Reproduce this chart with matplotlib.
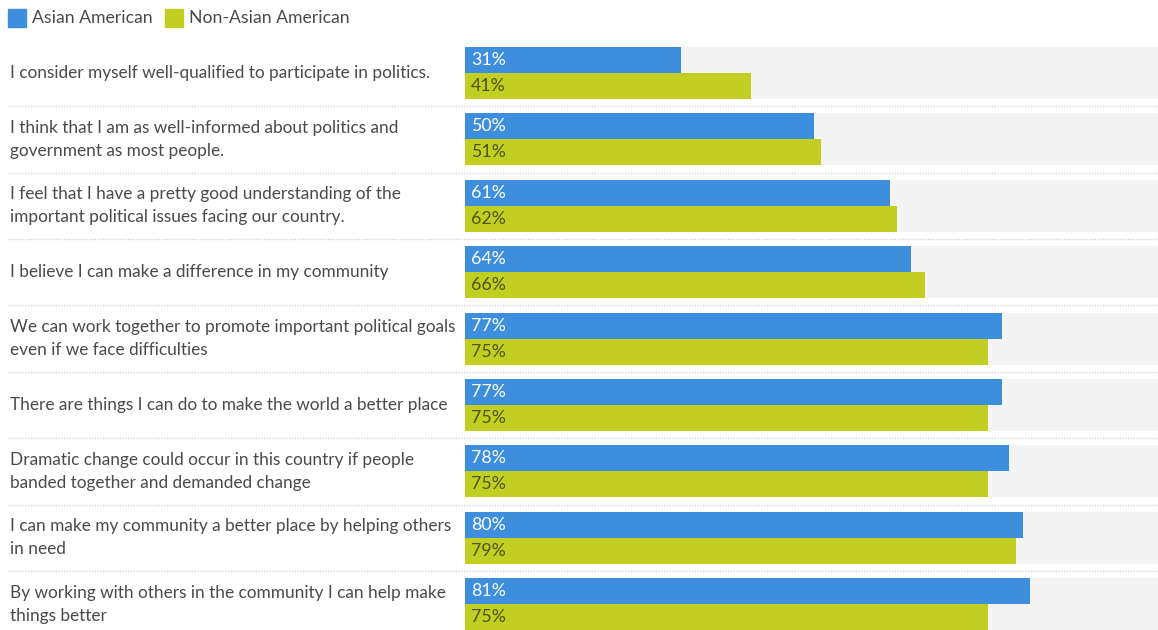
import matplotlib
matplotlib.use("Agg")
import matplotlib.pyplot as plt
from matplotlib.lines import Line2D
from matplotlib.patches import Rectangle
from matplotlib.transforms import blended_transform_factory

plt.rcParams['font.family'] = ['Lato', 'DejaVu Sans']

statements = [
    "I consider myself well-qualified to participate in politics.",
    "I think that I am as well-informed about politics and\ngovernment as most people.",
    "I feel that I have a pretty good understanding of the\nimportant political issues facing our country.",
    "I believe I can make a difference in my community",
    "We can work together to promote important political goals\neven if we face difficulties",
    "There are things I can do to make the world a better place",
    "Dramatic change could occur in this country if people\nbanded together and demanded change",
    "I can make my community a better place by helping others\nin need",
    "By working with others in the community I can help make\nthings better",
]
asian_american = [31, 50, 61, 64, 77, 77, 78, 80, 81]
non_asian_american = [41, 51, 62, 66, 75, 75, 75, 79, 75]
series_names = ["Asian American", "Non-Asian American"]

BLUE = "#3d8fde"
GREEN = "#c2cf22"
TRACK = "#f4f4f4"
TEXT = "#4a4a4a"
GREEN_TEXT = "#4f5312"

W, H = 1158, 630
fig = plt.figure(figsize=(W / 100, H / 100), dpi=100)

# layout in pixels
left_px = 465
row_pitch = 66.4
first_center = 73
bar_h = 26

ax = fig.add_axes([left_px / W, 0, (W - left_px) / W, 1])
ax.set_xlim(0, 99.4)
top = -first_center / row_pitch
bottom = (H - first_center) / row_pitch
ax.set_ylim(bottom, top)
ax.axis("off")

n = len(statements)
rows = list(range(n))
hb = bar_h / row_pitch

ax.barh(rows, [100] * n, height=2 * hb, color=TRACK, zorder=0)
ax.barh([r - hb / 2 for r in rows], asian_american, height=hb, color=BLUE, zorder=2)
ax.barh([r + hb / 2 for r in rows], non_asian_american, height=hb, color=GREEN, zorder=2)

pad = 6 / (W - left_px) * 99.4
for r, a, b in zip(rows, asian_american, non_asian_american):
    ax.text(pad, r - hb / 2, f"{a}%", color="white", fontsize=12.8,
            va="center", ha="left", zorder=3)
    ax.text(pad, r + hb / 2, f"{b}%", color=GREEN_TEXT, fontsize=12.8,
            va="center", ha="left", zorder=3)

# statement labels on the left
lab_tr = blended_transform_factory(fig.transFigure, ax.transData)
for r, s in zip(rows, statements):
    ax.text(10 / W, r, s, transform=lab_tr, fontsize=12.4, color=TEXT,
            va="center", ha="left", linespacing=1.54, clip_on=False)

# dotted separators between rows
for r in rows[:-1]:
    ax.add_line(Line2D([8 / W, 1], [r + 0.5, r + 0.5], transform=lab_tr,
                       color="#d6d6d6", lw=1, ls=(0, (1, 1)), clip_on=False))

# legend
sq = 18
for x0, name, col in [(8, series_names[0], BLUE), (165, series_names[1], GREEN)]:
    fig.add_artist(Rectangle((x0 / W, 1 - 27 / H), sq / W, sq / H,
                             transform=fig.transFigure, color=col))
    fig.text((x0 + sq + 6) / W, 1 - 18 / H, name, fontsize=12.7, color=TEXT,
             va="center", ha="left")

fig.savefig("out.png", dpi=100, facecolor="white")
